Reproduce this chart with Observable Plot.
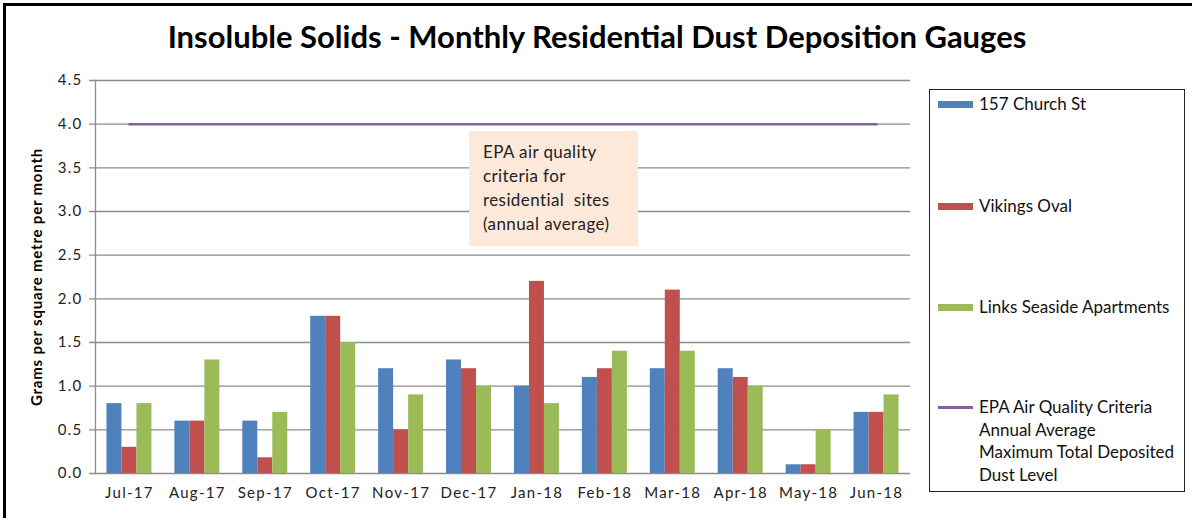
<!DOCTYPE html>
<html><head><meta charset="utf-8">
<script src="https://cdn.jsdelivr.net/npm/d3@7"></script>
<script src="https://cdn.jsdelivr.net/npm/@observablehq/plot@0.6"></script>
<style>
body{margin:0;background:#fff;font-family:Lato,"Open Sans",sans-serif;}
#wrap{position:relative;width:1192px;height:518px;overflow:hidden;background:#fff;}
#frame{position:absolute;left:3px;top:3px;width:1210px;height:540px;border:3px solid #000;box-sizing:border-box;}
#title{position:absolute;left:0;top:17px;width:1194px;text-align:center;font-weight:700;font-size:31px;color:#000;letter-spacing:0;}
#chart{position:absolute;left:0;top:70px;}
#chart [aria-label="y-axis tick label"] text, #chart [aria-label="x-axis tick label"] text{letter-spacing:1.3px;}
#chart g[aria-label="text"] text{letter-spacing:0.8px;}
#note{position:absolute;left:469px;top:131px;width:169px;height:115px;background:#FDE9D9;box-sizing:border-box;padding:9px 0 0 14px;font-size:17px;letter-spacing:0.4px;line-height:24px;color:#222;white-space:pre;}
#legend{position:absolute;left:929px;top:89px;width:256px;height:403px;border:1.5px solid #222;box-sizing:border-box;font-size:17px;color:#111;}
.item{position:absolute;left:8px;display:flex;align-items:flex-start;}
.sw{width:35px;height:7px;margin-right:6px;margin-top:8px;flex:none;}
.ln{width:35px;height:2.5px;margin-right:6px;margin-top:10px;flex:none;}
.lbl{line-height:22.5px;white-space:nowrap;}
</style></head>
<body>
<div id="wrap">
  <div id="frame"></div>
  <div id="title">Insoluble Solids - Monthly Residential Dust Deposition Gauges</div>
  <div id="chart"></div>
  <div id="note"></div>
  <div id="legend"></div>
</div>
<script>
const months = ["Jul-17","Aug-17","Sep-17","Oct-17","Nov-17","Dec-17","Jan-18","Feb-18","Mar-18","Apr-18","May-18","Jun-18"];
const churchSt = [0.8,0.6,0.6,1.8,1.2,1.3,1.0,1.1,1.2,1.2,0.1,0.7];
const vikingsOval = [0.3,0.6,0.18,1.8,0.5,1.2,2.2,1.2,2.1,1.1,0.1,0.7];
const linksSeaside = [0.8,1.3,0.7,1.5,0.9,1.0,0.8,1.4,1.4,1.0,0.5,0.9];
const epaCriteria = [4.0,4.0,4.0,4.0,4.0,4.0,4.0,4.0,4.0,4.0,4.0,4.0];
const seriesNames = ["157 Church St","Vikings Oval","Links Seaside Apartments"];
const yTicks = [0,0.5,1,1.5,2,2.5,3,3.5,4,4.5];
const colors = ["#4F81BD","#C0504D","#9BBB59"];
const lineColor = "#8064A2";
const yLabel = "Grams per square metre per month";
const noteLines = ["EPA air quality","criteria for","residential  sites","(annual average)"];
const lineLegend = ["EPA Air Quality Criteria","Annual Average","Maximum Total Deposited","Dust Level"];

const allSeries = [churchSt, vikingsOval, linksSeaside];
const rows = [];
allSeries.forEach((vals, si) => vals.forEach((v, i) => rows.push({month: months[i], series: seriesNames[si], si, value: v})));
const lineRows = months.map((m, i) => ({month: m, value: epaCriteria[i]}));

const W = 920, H = 448, mL = 95, mR = 10, mT = 10, mB = 45;
const bw = (W - mL - mR) / months.length;
const barW = 15;
const inset = (bw - barW) / 2;
const offs = [-barW, 0, barW];

const grid = "#8c8c8c";
const barMarks = [0,1,2].map(si => Plot.barY(rows.filter(d => d.si === si), {
  x: "month", y: "value", fill: colors[si], insetLeft: inset, insetRight: inset, dx: offs[si]
}));

const chart = Plot.plot({
  width: W, height: H, marginLeft: mL, marginRight: mR, marginTop: mT, marginBottom: mB,
  style: {fontFamily: "Lato, 'Open Sans', sans-serif", fontSize: "14px", color: "#222", background: "transparent"},
  x: {type: "band", domain: months, padding: 0, round: false},
  y: {domain: [0, 4.5]},
  marks: [
    Plot.ruleY(yTicks, {stroke: grid, strokeWidth: 1.3, insetLeft: -6}),
    Plot.frame({anchor: "left", stroke: grid, strokeWidth: 1.3}),
    ...barMarks,
    Plot.lineY(lineRows, {x: "month", y: "value", stroke: lineColor, strokeWidth: 2.5}),
    Plot.axisY({ticks: yTicks, tickFormat: d3.format(".1f"), tickSize: 0, tickPadding: 13, label: null, fontSize: 15, fill: "#222"}),
    Plot.axisX({tickSize: 0, tickPadding: 14, label: null, fontSize: 15, fill: "#222"}),
    Plot.text([yLabel], {frameAnchor: "left", textAnchor: "middle", rotate: -90, dx: -58, fontWeight: "bold", fontSize: 15, fill: "#000"})
  ]
});
document.getElementById("chart").appendChild(chart);

document.getElementById("note").innerHTML = noteLines.map(t => `<div>${t}</div>`).join("");

const legend = document.getElementById("legend");
const tops = [3, 105, 206, 306];
seriesNames.forEach((n, i) => {
  legend.insertAdjacentHTML("beforeend", `<div class="item" style="top:${tops[i]}px"><div class="sw" style="background:${colors[i]}"></div><div class="lbl">${n}</div></div>`);
});
legend.insertAdjacentHTML("beforeend", `<div class="item" style="top:${tops[3]}px"><div class="ln" style="background:${lineColor}"></div><div class="lbl">${lineLegend.join("<br>")}</div></div>`);
</script>
</body></html>
